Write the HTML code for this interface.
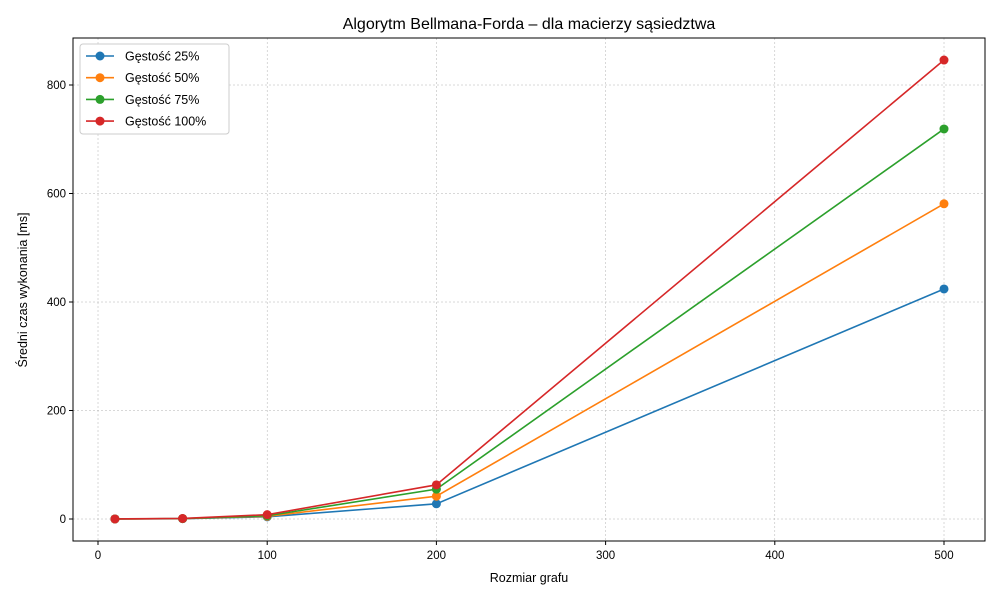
<!DOCTYPE html>
<html><head><meta charset="utf-8"><style>body{margin:0;background:#fff}svg{font-family:"Liberation Sans","DejaVu Sans",sans-serif}</style></head>
<body>
<svg id="c" width="1000" height="600" xmlns="http://www.w3.org/2000/svg"></svg>
<script>
const sizes=[10,50,100,200,500];
const s25=[0.1,0.6,4,28,424];
const s50=[0.1,0.7,5,42,581];
const s75=[0.1,0.8,6,55,719];
const s100=[0.1,1,8,63,846];
const seriesNames=["Gęstość 25%","Gęstość 50%","Gęstość 75%","Gęstość 100%"];
const xTicks=[0,100,200,300,400,500];
const yTicks=[0,200,400,600,800];
const colors=["#1f77b4","#ff7f0e","#2ca02c","#d62728"];
const svg=document.getElementById('c');
const NS="http://www.w3.org/2000/svg";
const L=73,R=985,T=38,B=541;
const X=v=>98+v*(944-98)/500;
const Y=v=>519-v*(519-85)/800;
function mk(t,a,p){const e=document.createElementNS(NS,t);for(const k in a)e.setAttribute(k,a[k]);(p||svg).appendChild(e);return e;}
xTicks.forEach(v=>{
const g=mk('line',{x1:X(v),x2:X(v),y1:T,y2:B,stroke:'#b0b0b0','stroke-width':0.5,'stroke-dasharray':'2,2'});


mk('line',{x1:X(v),x2:X(v),y1:B,y2:B+4,stroke:'#000'});
const t=mk('text',{x:X(v),y:B+18,'text-anchor':'middle','font-size':11.5});t.textContent=v;


});
yTicks.forEach(v=>{
const g=mk('line',{x1:L,x2:R,y1:Y(v),y2:Y(v),stroke:'#b0b0b0','stroke-width':0.5,'stroke-dasharray':'2,2'});


mk('line',{x1:L-4,x2:L,y1:Y(v),y2:Y(v),stroke:'#000'});
const t=mk('text',{x:L-7,y:Y(v)+4,'text-anchor':'end','font-size':11.5});t.textContent=v;


});
const ax=mk('rect',{x:L,y:T,width:R-L,height:B-T,fill:'none',stroke:'#000','stroke-width':1});


[s25,s50,s75,s100].forEach((s,i)=>{
const pl=mk('polyline',{points:s.map((v,j)=>X(sizes[j])+','+Y(v)).join(' '),fill:'none',stroke:colors[i],'stroke-width':1.6});


s.forEach((v,j)=>{const c=mk('circle',{cx:X(sizes[j]),cy:Y(v),r:4.5,fill:colors[i]});

});
});
const tt=mk('text',{x:529,y:29,'text-anchor':'middle','font-size':16});tt.textContent="Algorytm Bellmana-Forda – dla macierzy sąsiedztwa";


const xl=mk('text',{x:529,y:582,'text-anchor':'middle','font-size':12.5});xl.textContent="Rozmiar grafu";


const yl=mk('text',{x:0,y:0,'text-anchor':'middle','font-size':12.5,transform:'translate(27,290) rotate(-90)'});yl.textContent="Średni czas wykonania [ms]";


const lg=mk('rect',{x:80,y:44,width:149,height:90,fill:'#fff',stroke:'#ccc',rx:3});


seriesNames.forEach((n,i)=>{const y=56+i*21.7;
mk('line',{x1:86,x2:114,y1:y,y2:y,stroke:colors[i],'stroke-width':1.6});
mk('circle',{cx:100,cy:y,r:4.5,fill:colors[i]});
const t=mk('text',{x:125,y:y+4.5,'font-size':12.5});t.textContent=n;


});
</script>
</body></html>
